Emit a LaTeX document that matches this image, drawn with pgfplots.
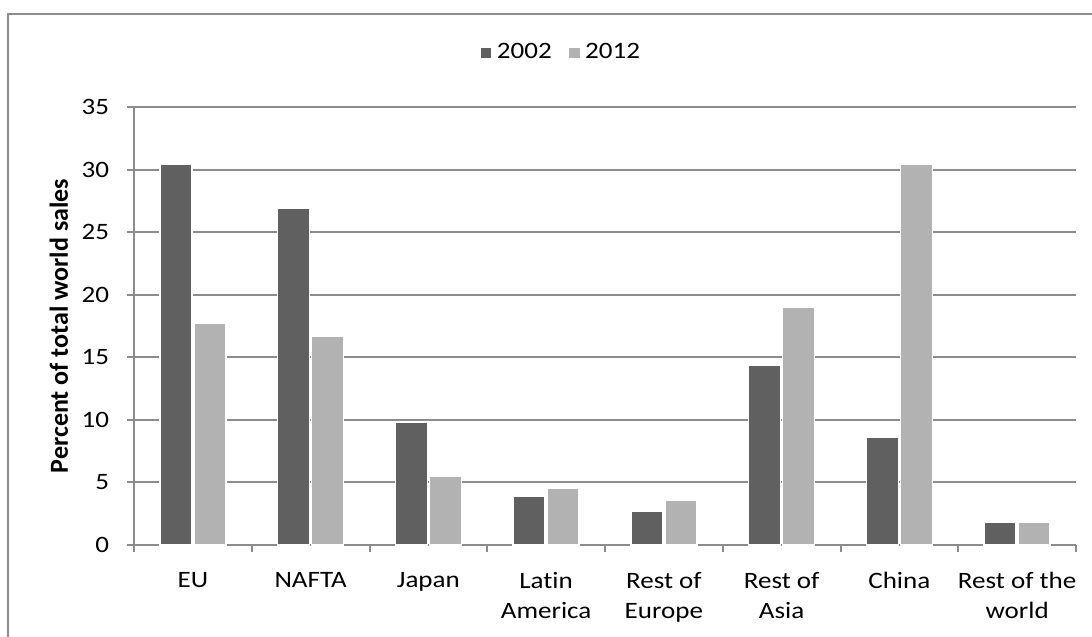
\documentclass[border=0pt]{standalone}
\usepackage{pgfplots}
\pgfplotsset{compat=1.18}
\usepackage{fontspec}
\setmainfont{Carlito}[FakeStretch=1.15, Ligatures=NoCommon]
\newfontfamily\labelfont{Carlito}[Ligatures=NoCommon]
\definecolor{dark}{HTML}{606060}
\definecolor{light}{HTML}{B2B2B2}
\definecolor{gridc}{HTML}{8C8C8C}
\begin{document}
\fontsize{23.5}{30}\selectfont
\begin{tikzpicture}
\useasboundingbox (0,0) rectangle (1092pt,637pt);
\draw[gridc, line width=2pt] (8pt,-5pt) -- (8pt,623pt) -- (1100pt,623pt);
\begin{axis}[
  at={(134pt,92pt)}, anchor=south west,
  scale only axis, width=942pt, height=438pt,
  xmin=-0.5, xmax=7.5, ymin=0, ymax=35,
  ybar=2pt, bar width=32pt,
  ytick={0,5,...,35},
  xtick={-0.5,0.5,...,7.5},
  xticklabels={EU, NAFTA, Japan, Latin\\America, Rest of\\Europe, Rest of\\Asia, China, Rest of the\\world, {}},
  xticklabel style={xshift=58.875pt, yshift=-12pt, align=center},
  yticklabel style={xshift=-10pt},
  /pgf/number format/assume math mode=true,
  ymajorgrids, major grid style={gridc, line width=2pt},
  axis x line*=bottom, axis y line*=left,
  axis line style={gridc, line width=2pt, -},
  tick align=outside,
  major tick length=7pt,
  tick style={gridc, line width=2pt},
  ylabel={\labelfont\fontsize{26}{30}\selectfont\bfseries Percent of total world sales},
  ylabel style={at={(axis description cs:-0.0701,0.5)}, anchor=base},
  legend columns=2,
  legend style={draw=none, fill=none, at={(axis description cs:0.453,1.123)}, anchor=center,
    /tikz/every odd column/.append style={column sep=2pt},
    /tikz/every even column/.append style={column sep=14pt}},
  legend image code/.code={\fill[#1] (0pt,-6pt) rectangle (12pt,6pt);},
]
\addplot[fill=dark, draw=white, line width=1.5pt] coordinates {
(0,30.4) (1,26.9) (2,9.8) (3,3.9) (4,2.7) (5,14.4) (6,8.6) (7,1.8)};
\addplot[fill=light, draw=white, line width=1.5pt] coordinates {
(0,17.7) (1,16.7) (2,5.5) (3,4.5) (4,3.6) (5,19.0) (6,30.4) (7,1.8)};
\legend{2002, 2012}
\end{axis}
\end{tikzpicture}
\end{document}
